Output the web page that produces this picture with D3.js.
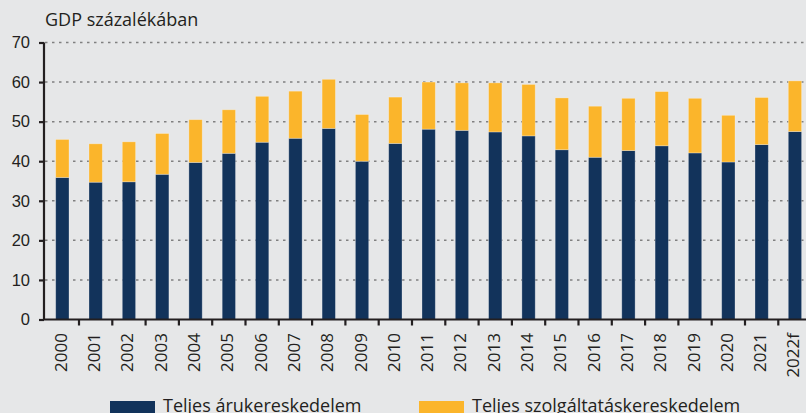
<!DOCTYPE html>
<html>
<head>
<meta charset="utf-8">
<script src="https://cdn.jsdelivr.net/npm/d3@7"></script>
<style>
  body { margin: 0; background: #e6e7e8; }
  svg { display: block; font-family: "Open Sans", "Noto Sans", sans-serif; }
</style>
</head>
<body>
<svg id="chart" width="806" height="413"></svg>
<script>
const svg = d3.select("#chart"),
    width = +svg.attr("width"),
    height = +svg.attr("height");

// adatok leolvasva az abrarol (GDP %)
const years = ["2000","2001","2002","2003","2004","2005","2006","2007","2008","2009","2010","2011",
    "2012","2013","2014","2015","2016","2017","2018","2019","2020","2021","2022f"];
const goods = [35.9, 34.7, 34.8, 36.7, 39.7, 42.0, 44.8, 45.8, 48.3, 40.0, 44.5, 48.1,
    47.8, 47.4, 46.4, 42.9, 41.0, 42.7, 43.9, 42.1, 39.8, 44.2, 47.5];
const services = [9.6, 9.7, 10.1, 10.3, 10.8, 11.0, 11.6, 11.9, 12.4, 11.8, 11.7, 11.9,
    12.0, 12.4, 13.0, 13.1, 12.9, 13.2, 13.7, 13.8, 11.8, 11.9, 12.8];
const yTicks = [0, 10, 20, 30, 40, 50, 60, 70];
const seriesNames = ["Teljes árukereskedelem", "Teljes szolgáltatáskereskedelem"];
const colors = ["#12335b", "#fbb52b"];

const x = d3.scaleBand()
    .domain(years)
    .range([45.7, 811.6])
    .paddingInner(0.6)
    .paddingOuter(0.3);

const y = d3.scaleLinear()
    .domain([0, 70])
    .range([319.5, 42.5]);

// racsvonalak
svg.append("g")
    .selectAll("line")
    .data(yTicks.filter(d => d > 0))
    .enter()
    .append("line")
    .attr("x1", 45)
    .attr("x2", width)
    .attr("y1", d => y(d))
    .attr("y2", d => y(d))
    .style("stroke", "#808080")
    .style("stroke-width", 1.5)
    .style("stroke-dasharray", "2.5,4.5");

const rows = years.map((d, i) => ({year: d, goods: goods[i], services: services[i]}));
const stack = d3.stack().keys(["goods", "services"])(rows);

svg.append("g")
    .selectAll("g")
    .data(stack)
    .enter()
    .append("g")
    .attr("fill", (d, i) => colors[i])
    .selectAll("rect")
    .data(d => d)
    .enter()
    .append("rect")
    .attr("x", d => x(d.data.year))
    .attr("width", x.bandwidth())
    .attr("y", d => y(d[1]))
    .attr("height", d => y(d[0]) - y(d[1]))
    .style("stroke", "rgba(255,255,255,0.35)")
    .style("stroke-width", 0.8);

// y tengely
const yAxis = svg.append("g")
    .attr("transform", "translate(44,0)")
    .call(d3.axisLeft(y).tickValues(yTicks).tickSize(5).tickPadding(9));
yAxis.select(".domain").attr("d", `M0,${y(70)}V${y(0)}`).style("stroke", "#231f20").style("stroke-width", 2.2);
yAxis.selectAll(".tick line").style("stroke", "#231f20").style("stroke-width", 2.2);
yAxis.selectAll(".tick text")
    .style("font-size", "16.5px")
    .style("fill", "#231f20")
    .attr("font-family", null);

// x tengely
const xAxis = svg.append("g")
    .attr("transform", `translate(0,${y(0)})`);
xAxis.append("line")
    .attr("x1", 43)
    .attr("x2", width)
    .style("stroke", "#231f20")
    .style("stroke-width", 2.2);
xAxis.selectAll(".sep")
    .data(years.slice(1))
    .enter()
    .append("line")
    .attr("class", "sep")
    .attr("x1", d => x(d) - x.step() * x.paddingInner() / 2)
    .attr("x2", d => x(d) - x.step() * x.paddingInner() / 2)
    .attr("y1", 0)
    .attr("y2", 6)
    .style("stroke", "#231f20")
    .style("stroke-width", 2.2);
xAxis.selectAll("text")
    .data(years)
    .enter()
    .append("text")
    .attr("transform", d => `translate(${x(d) + x.bandwidth() / 2 + 4.5},${13.5}) rotate(-90)`)
    .attr("text-anchor", "end")
    .style("font-size", "17px")
    .style("fill", "#231f20")
    .text(d => d);

// cim
svg.append("text")
    .attr("x", 45)
    .attr("y", 26)
    .style("font-size", "18px")
    .style("fill", "#231f20")
    .text("GDP százalékában");

// jelmagyarazat
const legend = svg.append("g");
const legendX = [110, 419];
legend.selectAll("rect")
    .data(seriesNames)
    .enter()
    .append("rect")
    .attr("x", (d, i) => legendX[i])
    .attr("y", 401)
    .attr("width", 45)
    .attr("height", 16)
    .attr("fill", (d, i) => colors[i]);
legend.selectAll("text")
    .data(seriesNames)
    .enter()
    .append("text")
    .attr("x", (d, i) => legendX[i] + 53)
    .attr("y", 411.5)
    .style("font-size", "18px")
    .style("fill", "#231f20")
    .text(d => d);
</script>
</body>
</html>
